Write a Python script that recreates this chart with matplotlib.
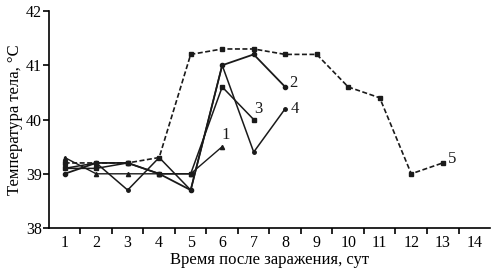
import matplotlib.pyplot as plt
import numpy as np

plt.rcParams['font.family'] = ['Liberation Serif', 'DejaVu Serif']

days = np.arange(1, 15)
s1 = [39.3, 39.0, 39.0, 39.0, 39.0, 39.5]
s2 = [39.0, 39.2, 39.2, 39.0, 38.7, 41.0, 41.2, 40.6]
s3 = [39.1, 39.1, 39.2, 39.0, 39.0, 40.6, 40.0]
s4 = [39.1, 39.2, 38.7, 39.3, 38.7, 41.0, 39.4, 40.2]
s5 = [39.2, 39.2, 39.2, 39.3, 41.2, 41.3, 41.3, 41.2, 41.2, 40.6, 40.4, 39.0, 39.2]

labels = ['1', '2', '3', '4', '5']
label_pos = [(6.1, 39.72), (8.25, 40.68), (7.15, 40.2), (8.3, 40.2), (13.3, 39.28)]

fig = plt.figure(figsize=(4.99, 2.68), dpi=100)
ax = fig.add_axes([0.098, 0.149, 0.884, 0.81])

c = '#1a1a1a'
ax.plot(days[:len(s1)], s1, '-', color=c, lw=1.0, marker='^', ms=3)
ax.plot(days[:len(s2)], s2, '-', color=c, lw=1.3, marker='o', ms=3)
ax.plot(days[:len(s3)], s3, '-', color=c, lw=1.1, marker='s', ms=3)
ax.plot(days[:len(s4)], s4, '-', color=c, lw=1.1, marker='o', ms=2.5)
ax.plot(days[:len(s5)], s5, '--', color=c, lw=1.2, marker='s', ms=3, dashes=(3, 1.5))

for lab, (x, y) in zip(labels, label_pos):
    ax.text(x, y, lab, fontsize=12, color=c, ha='center', va='center')

ax.set_xlim(0.5, 14.5)
ax.set_ylim(38, 42)
ax.set_xticks(days)
ax.set_xticks(np.arange(1.5, 14.5, 1), minor=True)
ax.set_yticks([38, 39, 40, 41, 42])
ax.tick_params(axis='x', which='major', length=0, labelsize=11.5, pad=5)
ax.tick_params(axis='x', which='minor', length=4, width=1.2, direction='out')
ax.tick_params(axis='y', length=4, width=1.2, labelsize=11.5, pad=1)
for s in ['top', 'right']:
    ax.spines[s].set_visible(False)
for s in ['left', 'bottom']:
    ax.spines[s].set_linewidth(1.2)

ax.set_xlabel('Время после заражения, сут', fontsize=12, labelpad=1)
ax.set_ylabel('Температура тела, °C', fontsize=12, labelpad=2)

fig.savefig('out.png', dpi=100)
